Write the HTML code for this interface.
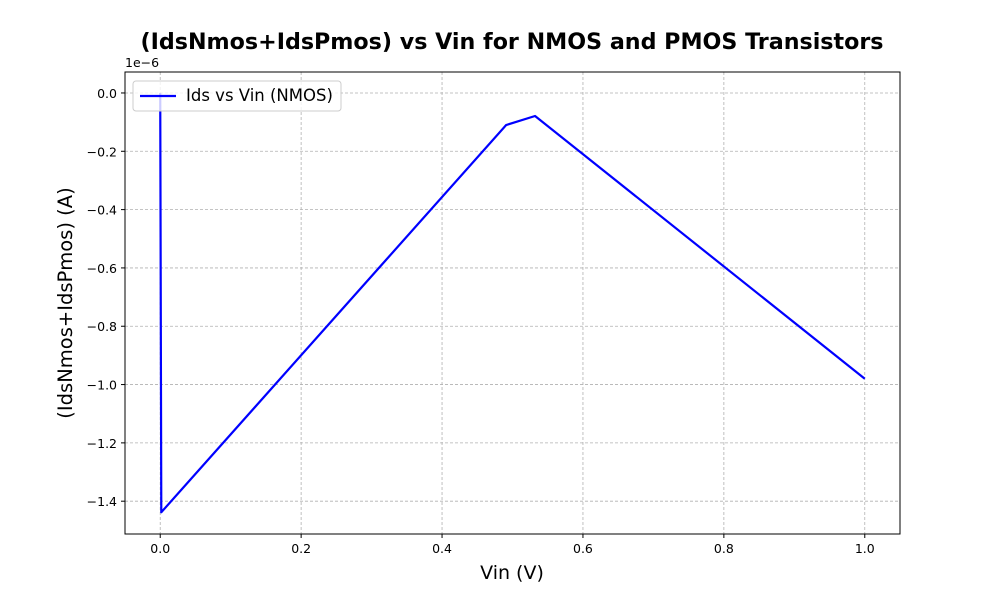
<!DOCTYPE html>
<html><head><meta charset="utf-8"><style>
body{margin:0;background:#fff;font-family:"DejaVu Sans","Liberation Sans",sans-serif}
svg text{font-family:"DejaVu Sans","Liberation Sans",sans-serif}
</style></head><body>
<svg id="chart" width="1000" height="600" xmlns="http://www.w3.org/2000/svg"></svg>
<script>
const xVals=[0,0.0015,0.491,0.532,1.0];
const yVals=[0,-1.438,-0.11,-0.079,-0.98];
const xTicks=[0,0.2,0.4,0.6,0.8,1.0];
const xTickLabels=["0.0","0.2","0.4","0.6","0.8","1.0"];
const yTicks=[0,-0.2,-0.4,-0.6,-0.8,-1.0,-1.2,-1.4];
const yTickLabels=["0.0","−0.2","−0.4","−0.6","−0.8","−1.0","−1.2","−1.4"];
const L=125,R=900,T=72,B=534;
const xmin=-0.05,xmax=1.05,ymin=-1.5125,ymax=0.0719;
const sx=v=>L+(v-xmin)/(xmax-xmin)*(R-L);
const sy=v=>B-(v-ymin)/(ymax-ymin)*(B-T);
const svg=document.getElementById('chart');
const NS='http://www.w3.org/2000/svg';
function mk(tag,attrs,text){const e=document.createElementNS(NS,tag);for(const k in attrs)e.setAttribute(k,attrs[k]);if(text!==undefined)e.textContent=text;svg.appendChild(e);return e;}
xTicks.forEach((v,i)=>{
 const g=mk('line',{x1:sx(v),x2:sx(v),y1:T,y2:B,stroke:'#b0b0b0','stroke-width':0.8,'stroke-dasharray':'3,2'});
 
 const t=mk('line',{x1:sx(v),x2:sx(v),y1:B,y2:B+4,stroke:'#000'});
 
 const l=mk('text',{x:sx(v),y:B+19,'text-anchor':'middle','font-size':12.5},xTickLabels[i]);
 
});
yTicks.forEach((v,i)=>{
 const g=mk('line',{x1:L,x2:R,y1:sy(v),y2:sy(v),stroke:'#b0b0b0','stroke-width':0.8,'stroke-dasharray':'3,2'});
 
 const t=mk('line',{x1:L-4,x2:L,y1:sy(v),y2:sy(v),stroke:'#000'});
 
 const l=mk('text',{x:L-8,y:sy(v)+5,'text-anchor':'end','font-size':12.5},yTickLabels[i]);
 
});
const pts=xVals.map((x,i)=>sx(x)+','+sy(yVals[i])).join(' ');
const line=mk('polyline',{points:pts,fill:'none',stroke:'#0000ff','stroke-width':2.2,'stroke-linejoin':'round'});

const fr=mk('rect',{x:L,y:T,width:R-L,height:B-T,fill:'none',stroke:'#000','stroke-width':1});

const off=mk('text',{x:L,y:T-5,'font-size':12.5},'1e−6');

const ti=mk('text',{x:512,y:49,'text-anchor':'middle','font-size':22.2,'font-weight':'bold'},'(IdsNmos+IdsPmos) vs Vin for NMOS and PMOS Transistors');

const xt=mk('text',{x:512,y:579,'text-anchor':'middle','font-size':19},'Vin (V)');

const yt=mk('text',{x:72,y:303,'text-anchor':'middle','font-size':19.5,transform:'rotate(-90 72 303)'},'(IdsNmos+IdsPmos) (A)');

const lb=mk('rect',{x:133,y:81,width:208,height:30,rx:3,fill:'#fff','fill-opacity':0.8,stroke:'#ccc'});

const ll=mk('line',{x1:140,x2:176,y1:96,y2:96,stroke:'#0000ff','stroke-width':2.2});

const lt=mk('text',{x:186,y:101,'font-size':16.5},'Ids vs Vin (NMOS)');

</script>
</body></html>
